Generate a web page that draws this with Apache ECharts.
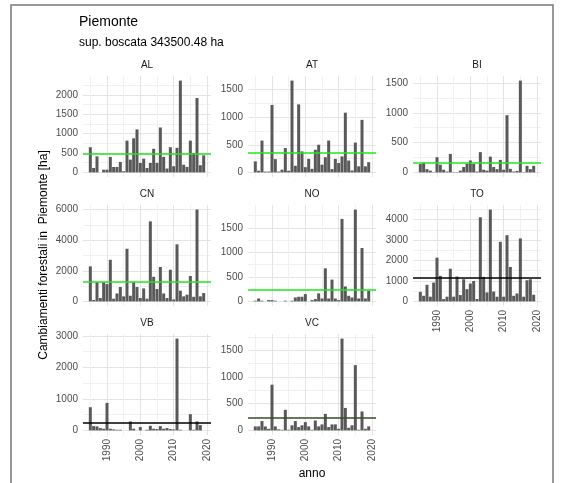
<!DOCTYPE html>
<html>
<head>
<meta charset="utf-8">
<script src="https://cdn.jsdelivr.net/npm/echarts@6/dist/echarts.min.js"></script>
<style>
html, body { margin: 0; padding: 0; background: #fff; }
#main { width: 564px; height: 483px; }
</style>
</head>
<body>
<div id="main"></div>
<script>
// dati (ha per anno)
var anni = [1985, 1986, 1987, 1988, 1989, 1990, 1991, 1992, 1993, 1994,
            1995, 1996, 1997, 1998, 1999, 2000, 2001, 2002, 2003, 2004,
            2005, 2006, 2007, 2008, 2009, 2010, 2011, 2012, 2013, 2014,
            2015, 2016, 2017, 2018, 2019];

var AL = [650, 115, 414, 0, 70, 70, 400, 140, 140, 270,
          30, 820, 330, 880, 1110, 245, 355, 115, 245, 610,
          245, 1160, 400, 100, 650, 160, 635, 2370, 200, 140,
          820, 500, 1920, 185, 440];
var AT = [200, 30, 575, 15, 15, 1220, 240, 15, 50, 440,
          30, 1660, 120, 1230, 380, 95, 245, 65, 410, 500,
          140, 275, 575, 60, 245, 170, 290, 1080, 215, 35,
          540, 110, 950, 110, 185];
var BI = [140, 165, 55, 30, 5, 255, 130, 45, 15, 310,
          5, 5, 30, 90, 145, 200, 145, 15, 340, 45,
          30, 265, 90, 55, 210, 45, 960, 60, 15, 25,
          1540, 5, 110, 55, 110];
var CN = [2290, 90, 1260, 220, 1260, 1130, 2720, 175, 520, 940,
          330, 3440, 370, 1260, 940, 220, 850, 175, 5230, 1610,
          810, 2250, 520, 220, 2070, 130, 3730, 700, 330, 440,
          1660, 300, 6000, 330, 545];
var NO = [14, 60, 14, 0, 27, 27, 14, 0, 0, 14,
          0, 14, 80, 95, 95, 150, 0, 27, 48, 165,
          60, 675, 60, 445, 60, 27, 1685, 305, 115, 80,
          1875, 60, 1090, 60, 220];
var TO = [470, 275, 810, 230, 920, 2140, 1250, 115, 230, 1600,
          230, 1215, 310, 1085, 600, 875, 1000, 115, 4115, 1200,
          440, 4490, 485, 230, 2915, 230, 3240, 1685, 275, 390,
          3080, 230, 1035, 1085, 325];
var VB = [737, 137, 126, 74, 53, 874, 53, 32, 21, 21,
          0, 0, 284, 53, 0, 105, 0, 21, 147, 53,
          42, 137, 53, 74, 42, 32, 2917, 21, 0, 0,
          516, 21, 284, 168, 0];
var VC = [75, 75, 175, 75, 30, 855, 75, 20, 12, 385,
          12, 95, 175, 62, 95, 155, 75, 12, 185, 75,
          112, 310, 62, 112, 112, 30, 1717, 420, 50, 95,
          1220, 12, 355, 30, 75];

var pannelli = ['AL', 'AT', 'BI', 'CN', 'NO', 'TO', 'VB', 'VC'];
var valori = [AL, AT, BI, CN, NO, TO, VB, VC];
var medie = [480, 350, 170, 1310, 240, 1135, 232, 230];
var coloriMedia = ['#1ee81e', '#1ee81e', '#1ee81e', '#1ee81e', '#1ee81e', '#000000', '#000000', '#34502a'];

var tickY = [[0, 500, 1000, 1500, 2000],
             [0, 500, 1000, 1500],
             [0, 500, 1000, 1500],
             [0, 2000, 4000, 6000],
             [0, 500, 1000, 1500],
             [0, 1000, 2000, 3000, 4000],
             [0, 1000, 2000, 3000],
             [0, 500, 1000, 1500]];
var tickX = [1990, 2000, 2010, 2020];
var tickXMinor = [1985, 1995, 2005, 2015];

var FONT = "'Liberation Sans', Arial, sans-serif";
var chart = echarts.init(document.getElementById('main'), null, { renderer: 'canvas' });

// posizione dei pannelli (facet 3x3)
var colLeft = [83, 248, 413], rowTop = [76, 205, 334];
var pw = 128, ph = 101;

var xMin = anni[0] - 0.45, xMax = anni[anni.length - 1] + 0.45;
var xPad = (xMax - xMin) * 0.05;
xMin = xMin - xPad; xMax = xMax + xPad;

function plain(v) { return String(Math.round(v)); }

var grid = [], xAxis = [], yAxis = [], series = [], graphic = [];

pannelli.forEach(function (nome, i) {
  var r = Math.floor(i / 3), c = i % 3;
  grid.push({ left: colLeft[c], top: rowTop[r], width: pw, height: ph });

  var M = Math.max.apply(null, valori[i]);
  var yMin = -0.05 * M, yMax = 1.05 * M;
  var passo = tickY[i][1] - tickY[i][0];
  var minori = [];
  tickY[i].forEach(function (t) {
    if (t + passo / 2 < yMax) minori.push(t + passo / 2);
  });
  var conEtichette = (i >= 5);

  xAxis.push({
    type: 'value', gridIndex: i, min: xMin, max: xMax,
    axisLine: { show: false },
    axisTick: { show: false, customValues: tickX },
    axisLabel: {
      show: conEtichette, customValues: tickX, rotate: 90, margin: 4,
      color: '#4d4d4d', fontSize: 10, fontFamily: FONT, formatter: plain
    },
    splitLine: { show: true, lineStyle: { color: '#e4e4e4', width: 1 } }
  });
  xAxis.push({
    type: 'value', gridIndex: i, min: xMin, max: xMax,
    axisLine: { show: false },
    axisTick: { show: false, customValues: tickXMinor },
    axisLabel: { show: false },
    splitLine: { show: true, lineStyle: { color: '#f1f1f1', width: 1 } }
  });
  yAxis.push({
    type: 'value', gridIndex: i, min: yMin, max: yMax,
    axisLine: { show: false },
    axisTick: { show: false, customValues: tickY[i] },
    axisLabel: {
      customValues: tickY[i], margin: 5,
      color: '#4d4d4d', fontSize: 10, fontFamily: FONT, formatter: plain
    },
    splitLine: { show: true, lineStyle: { color: '#e4e4e4', width: 1 } }
  });
  yAxis.push({
    type: 'value', gridIndex: i, min: yMin, max: yMax,
    axisLine: { show: false },
    axisTick: { show: false, customValues: minori },
    axisLabel: { show: false },
    splitLine: { show: true, lineStyle: { color: '#f1f1f1', width: 1 } }
  });

  series.push({
    type: 'bar',
    xAxisIndex: 2 * i, yAxisIndex: 2 * i,
    data: anni.map(function (a, k) { return [a, valori[i][k]]; }),
    barWidth: 3,
    itemStyle: { color: '#595959' },
    markLine: {
      silent: true, symbol: 'none',
      label: { show: false },
      lineStyle: { color: coloriMedia[i], width: 1.5, type: 'solid' },
      data: [{ yAxis: medie[i] }]
    }
  });

  // etichetta della striscia
  graphic.push({
    type: 'text', x: colLeft[c] + pw / 2, y: rowTop[r] - 11,
    style: {
      text: nome, fill: '#1a1a1a', font: '10px ' + FONT,
      align: 'center', verticalAlign: 'middle'
    }
  });
});

graphic.push({
  type: 'rect', shape: { x: 11, y: 5, width: 542, height: 500 },
  style: { fill: 'none', stroke: '#777', lineWidth: 1.5 }
});
graphic.push({
  type: 'text', x: 79, y: 22,
  style: { text: 'Piemonte', fill: '#000', font: '14px ' + FONT, align: 'left', verticalAlign: 'middle' }
});
graphic.push({
  type: 'text', x: 79, y: 43,
  style: { text: 'sup. boscata 343500.48 ha', fill: '#000', font: '12px ' + FONT, align: 'left', verticalAlign: 'middle' }
});
graphic.push({
  type: 'text', x: 44, y: 255, rotation: Math.PI / 2,
  style: { text: 'Cambiamenti forestali in  Piemonte [ha]', fill: '#000', font: '12px ' + FONT, align: 'center', verticalAlign: 'middle' }
});
graphic.push({
  type: 'text', x: 312, y: 474,
  style: { text: 'anno', fill: '#000', font: '12px ' + FONT, align: 'center', verticalAlign: 'middle' }
});

chart.setOption({
  animation: false,
  backgroundColor: '#fff',
  grid: grid,
  xAxis: xAxis,
  yAxis: yAxis,
  series: series,
  graphic: graphic
});
</script>
</body>
</html>
